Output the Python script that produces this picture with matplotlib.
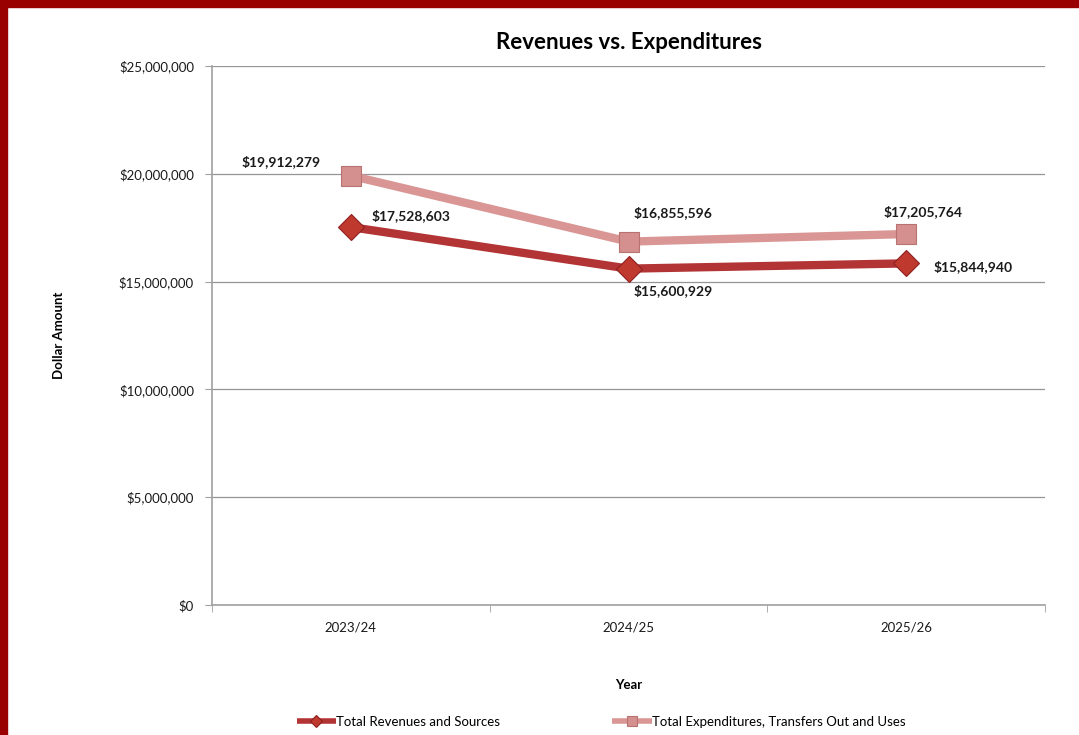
import matplotlib.pyplot as plt
from matplotlib.patches import Rectangle
from matplotlib.ticker import FuncFormatter, FixedLocator
import numpy as np

plt.rcParams['font.family'] = ['Lato', 'DejaVu Sans']

# data
years = ['2023/24', '2024/25', '2025/26']
revenues = [17528603, 15600929, 15844940]
expenditures = [19912279, 16855596, 17205764]

rev_color = '#B23434'
rev_marker = '#C0392F'
exp_color = '#D99694'
exp_marker = '#D3908E'

fig = plt.figure(figsize=(10.79, 7.35), dpi=100)
ax = fig.add_axes([212 / 1079, 1 - 605 / 735, (1045 - 212) / 1079, (605 - 66) / 735])

x = np.arange(len(years))
ax.plot(x, expenditures, color=exp_color, lw=6, marker='s', ms=15,
        mfc=exp_marker, mec='#B87270', mew=0.8, solid_capstyle='butt',
        label='Total Expenditures, Transfers Out and Uses', zorder=3)
ax.plot(x, revenues, color=rev_color, lw=6, marker='D', ms=13,
        mfc=rev_marker, mec='#8E1F1F', mew=0.8, solid_capstyle='butt',
        label='Total Revenues and Sources', zorder=4)

# data labels
lbl = dict(fontsize=10, fontweight='bold', color='#1a1a1a')
ax.annotate(f'${expenditures[0]:,}', (x[0], expenditures[0]), xytext=(-22, 10),
            textcoords='offset points', ha='right', va='center', **lbl)
ax.annotate(f'${revenues[0]:,}', (x[0], revenues[0]), xytext=(15, 8),
            textcoords='offset points', ha='left', va='center', **lbl)
ax.annotate(f'${expenditures[1]:,}', (x[1], expenditures[1]), xytext=(32, 21),
            textcoords='offset points', ha='center', va='center', **lbl)
ax.annotate(f'${revenues[1]:,}', (x[1], revenues[1]), xytext=(32, -16),
            textcoords='offset points', ha='center', va='center', **lbl)
ax.annotate(f'${expenditures[2]:,}', (x[2], expenditures[2]), xytext=(12, 16),
            textcoords='offset points', ha='center', va='center', **lbl)
ax.annotate(f'${revenues[2]:,}', (x[2], revenues[2]), xytext=(20, -2),
            textcoords='offset points', ha='left', va='center', **lbl)

# axes styling
ax.set_xlim(-0.5, len(years) - 0.5)
ax.set_ylim(0, 25000000)
ax.set_yticks(np.arange(0, 25000001, 5000000))
ax.yaxis.set_major_formatter(FuncFormatter(lambda v, p: f'${v:,.0f}'))
ax.set_xticks(x)
ax.set_xticklabels(years)
ax.xaxis.set_minor_locator(FixedLocator(np.arange(-0.5, len(years), 1.0)))
ax.tick_params(axis='x', which='major', length=0, pad=12, labelsize=9.5, colors='#1a1a1a')
ax.tick_params(axis='x', which='minor', length=5, color='#A0A0A0')
ax.tick_params(axis='y', length=5, color='#A0A0A0', labelsize=9.5, labelcolor='#1a1a1a', pad=8)

for s in ['top', 'right']:
    ax.spines[s].set_visible(False)
ax.spines['left'].set_color('#A0A0A0')
ax.spines['bottom'].set_color('#A0A0A0')
ax.spines['left'].set_linewidth(1.2)
ax.spines['bottom'].set_linewidth(1.2)
ax.yaxis.grid(True, color='#959595', lw=0.9)
ax.set_axisbelow(True)

ax.set_title('Revenues vs. Expenditures', fontsize=16, fontweight='bold', pad=12)
ax.set_ylabel('Dollar Amount', fontsize=9.5, fontweight='bold')
ax.set_xlabel('Year', fontsize=9.5, fontweight='bold')
ax.yaxis.set_label_coords(-0.176, 0.5)
ax.xaxis.set_label_coords(0.5, -0.138)

handles, labels = ax.get_legend_handles_labels()
leg = fig.legend(handles[::-1], labels[::-1], loc='lower center', ncol=2,
                 bbox_to_anchor=(0.557, -0.006), frameon=False, fontsize=9.5,
                 handlelength=3.0, handletextpad=0.0, columnspacing=8.5, markerscale=0.5)
for h in leg.legend_handles:
    h.set_linewidth(4)

# dark red frame on left and top
fig.patches.append(Rectangle((0, 0), 7 / 1079, 1, transform=fig.transFigure,
                             color='#990000', zorder=10))
fig.patches.append(Rectangle((0, 1 - 7 / 735), 1, 7 / 735, transform=fig.transFigure,
                             color='#990000', zorder=10))

fig.savefig('out.png', dpi=100)
